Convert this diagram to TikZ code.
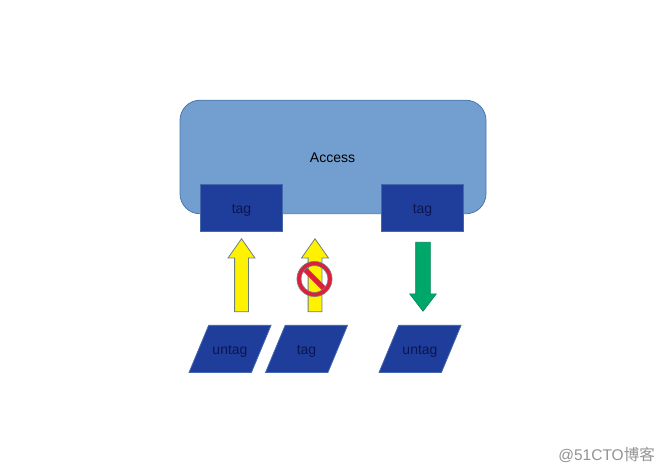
\documentclass[tikz,border=0pt]{standalone}
\usepackage{fontspec}
\setmainfont{Liberation Sans}
\newfontfamily\cjkfont{Noto Sans CJK SC}
\usetikzlibrary{shapes.geometric,shapes.arrows,calc}
\definecolor{mainblue}{HTML}{729FD0}
\definecolor{mainedge}{HTML}{4A78AC}
\definecolor{navy}{HTML}{1F3D9A}
\definecolor{navyedge}{HTML}{4468AE}
\definecolor{labelink}{HTML}{0B1650}
\definecolor{sunny}{HTML}{FFF200}
\definecolor{arrowedge}{HTML}{6E7F80}
\definecolor{emerald}{HTML}{00A76B}
\definecolor{stopred}{HTML}{DE1F3C}
\tikzset{
  x=1pt,y=-1pt,
  every node/.style={font=\fontsize{14}{16}\selectfont,text=labelink},
  labeltext/.style={text height=14pt,text depth=2pt},
  mainbox/.style={draw=mainedge,fill=mainblue,line width=0.8pt,rounded corners=20pt,minimum width=306pt,minimum height=113.5pt,inner sep=0pt},
  tagbox/.style={labeltext,draw=navyedge,fill=navy,line width=0.8pt,minimum width=82.2pt,minimum height=47.2pt,inner sep=0pt},
  slant/.style={labeltext,shape=trapezium,trapezium left angle=67.4,trapezium right angle=112.6,draw=navyedge,fill=navy,line width=0.8pt,inner xsep=0pt,inner ysep=15.6pt,minimum width=82pt,trapezium stretches body=true},
  upblock/.style={shape=single arrow,rotate=90,draw=arrowedge,fill=sunny,line width=0.8pt,minimum height=73pt,minimum width=26pt,single arrow head extend=6.5pt,single arrow tip angle=70,single arrow head indent=0pt,inner xsep=0pt,inner ysep=6.5pt},
  downblock/.style={shape=single arrow,rotate=-90,draw=emerald!80!black,fill=emerald,line width=0.6pt,minimum height=69pt,minimum width=26pt,single arrow head extend=6pt,single arrow tip angle=75,single arrow head indent=0pt,inner xsep=0pt,inner ysep=7pt},
  stopring/.style={shape=circle,draw=stopred,line width=4pt,minimum size=31pt,inner sep=0pt},
  stopline/.style={draw=stopred,line width=5pt},
  stopedge/.style={draw=arrowedge,line width=0.6pt}
}
\begin{document}
\begin{tikzpicture}
\useasboundingbox (0,0) rectangle (665,473);
\fill[white] (0,0) rectangle (665,473);
\node[mainbox] (access) at (333,157) {};
\node[labeltext,text=black] at (332.5,157) (accesslabel) {Access};
\node[tagbox] (tagA) at (241.5,208) {tag};
\node[tagbox] (tagB) at (422.5,208) {tag};
\node[upblock] (arrowA) at (241.5,280.2) {};
\node[upblock] (arrowB) at (315,280.2) {};
\node[downblock] (arrowC) at (423,272) {};
\node[slant] (untagA) at (230,349) {untag};
\node[slant] (tagC) at (306.5,349) {tag};
\node[slant] (untagB) at (420,349) {untag};
% prohibition sign
\coordinate (stop) at (314.5,279);
\draw[stopline] ($(stop)+(-9.5,-9.5)$) -- ($(stop)+(9.5,9.5)$);
\node[stopring] (ring) at (stop) {};
\path[stopedge] (stop) circle (17.6pt);
\path[stopedge] (stop) circle (13.4pt);
\node[anchor=east,inner sep=0pt,text=gray!85,font=\fontsize{15.5}{16}\selectfont] (mark) at (655,455) {@51CTO{\cjkfont 博客}};
\end{tikzpicture}
\end{document}
